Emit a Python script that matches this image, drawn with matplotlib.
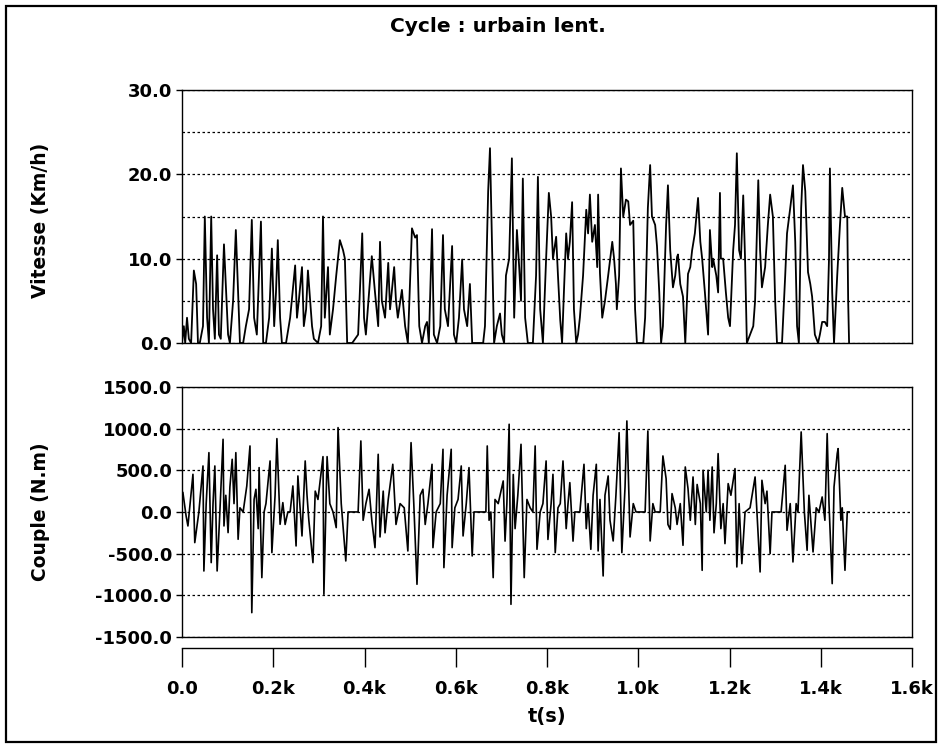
import numpy as np
import matplotlib
matplotlib.use("Agg")
import matplotlib.pyplot as plt
from matplotlib.patches import Rectangle
from matplotlib.ticker import MultipleLocator, FormatStrFormatter

plt.rcParams['font.family'] = ['DejaVu Sans']
plt.rcParams['font.weight'] = 'bold'

title = "Cycle : urbain lent."
xlabel = "t(s)"
ylabel_speed = "Vitesse (Km/h)"
ylabel_torque = "Couple (N.m)"
xtick_vals = [0, 200, 400, 600, 800, 1000, 1200, 1400, 1600]
xtick_labels = ["0.0", "0.2k", "0.4k", "0.6k", "0.8k", "1.0k", "1.2k", "1.4k", "1.6k"]

# vitesse (km/h), points
speed_t = [0, 4, 7, 11, 15, 20, 26, 31, 35, 39, 46, 50, 55, 59, 64, 68, 72, 77, 81, 85,
           92, 96, 101, 105, 112, 118, 123, 127, 134, 140, 147, 153, 158, 164, 173, 178,
           184, 191, 197, 202, 206, 210, 215, 219, 228, 237, 248, 252, 256, 263, 267, 272,
           276, 281, 285, 289, 298, 305, 309, 313, 320, 324, 331, 338, 346, 353, 357, 362,
           373, 386, 395, 399, 403, 410, 416, 423, 430, 434, 438, 445, 452, 456, 465, 469,
           473, 482, 489, 495, 504, 511, 515, 520, 526, 533, 537, 541, 548, 552, 559, 566,
           572, 576, 583, 592, 596, 601, 607, 614, 618, 625, 631, 636, 660, 664, 671, 675,
           680, 684, 690, 697, 701, 706, 710, 717, 723, 728, 734, 739, 743, 747, 752, 758,
           769, 776, 780, 785, 791, 798, 804, 809, 813, 820, 824, 829, 833, 837, 842, 846,
           850, 855, 859, 864, 868, 872, 879, 886, 890, 894, 899, 905, 910, 912, 916, 921,
           927, 934, 943, 947, 951, 953, 958, 962, 967, 973, 978, 982, 989, 993, 997, 1004,
           1011, 1015, 1021, 1026, 1030, 1037, 1041, 1046, 1050, 1054, 1061, 1065, 1070,
           1076, 1081, 1085, 1087, 1092, 1098, 1103, 1109, 1114, 1118, 1124, 1131, 1136,
           1140, 1146, 1153, 1157, 1162, 1164, 1171, 1175, 1179, 1181, 1186, 1192, 1197,
           1201, 1208, 1212, 1216, 1221, 1225, 1230, 1234, 1238, 1245, 1252, 1256, 1263,
           1267, 1271, 1278, 1284, 1289, 1295, 1300, 1304, 1315, 1322, 1326, 1333, 1339,
           1344, 1348, 1352, 1357, 1361, 1366, 1372, 1377, 1381, 1387, 1394, 1398, 1403,
           1409, 1414, 1418, 1420, 1425, 1429, 1436, 1442, 1447, 1453, 1458, 1460, 1462]
speed_v = [0, 2, 0, 3, 0.5, 0, 8.6, 7, 0, 0, 2, 15, 3, 0, 15, 4, 0.5, 10.4, 1, 0.5,
           11.7, 7, 1, 0, 5, 13.4, 6, 0, 0, 2, 4, 14.6, 3, 1, 14.4, 0,
           0, 3, 11.2, 2, 6, 12.2, 3, 0, 0, 3, 9.2, 3, 5, 9, 2, 4,
           8.6, 5, 2, 0.5, 0, 2, 15, 3, 9, 1, 4, 8, 12.2, 11, 10, 0,
           0, 1, 13, 3, 1, 6, 10.3, 6, 2, 12, 5, 3, 9.5, 4, 9, 5,
           3, 6.3, 2, 0, 13.6, 12.5, 12.8, 2, 0, 2, 2.5, 0, 13.5, 1, 0, 2,
           12.8, 4, 2, 11.5, 1, 0, 3, 9.9, 4, 2, 7, 0, 0, 2, 18, 23.1,
           10, 0, 2, 3.5, 1, 0, 8, 10, 21.9, 3, 13.4, 9, 5, 19.5, 3, 0,
           0, 8, 19.7, 4, 0, 10, 17.8, 15, 10, 12.6, 8, 2.7, 0, 6, 13, 10,
           12, 16.7, 4, 0, 1, 3, 8, 15.8, 13, 17.6, 12, 14, 9, 17.6, 8.3, 3,
           5, 8, 12, 10, 7, 4, 8, 20.7, 15, 17, 16.8, 14, 14.5, 4, 0, 0,
           0, 3, 16, 21.1, 15, 14, 11.5, 6, 0, 2, 14, 18.7, 11,
           6.6, 8, 10.2, 10.5, 7, 5.5, 0, 8.2, 9, 11, 13, 17.2, 12,
           10, 6, 1, 13.4, 9, 10, 8, 6, 17.8, 10, 10, 6, 3,
           2, 11, 14, 22.5, 11, 10, 17.5, 10, 0, 1, 2, 5, 19.3,
           11, 6.6, 9, 14, 17.6, 15, 5, 0, 0, 8, 13, 16, 18.7,
           12, 2, 0, 16, 21.1, 18, 8.4, 7, 5.5, 1, 0, 1, 2.5,
           2.5, 2, 10, 20.7, 6, 0, 8, 14, 18.4, 15, 15, 5, 0]

# couple (N.m), points
torque_t = [2, 9, 13, 24, 28, 37, 46, 48, 53, 59, 64, 68, 72, 77, 83, 90, 92, 96, 101, 105,
            110, 114, 118, 123, 127, 134, 142, 149, 153, 158, 162, 167, 169, 175, 180, 184,
            193, 197, 204, 208, 215, 221, 226, 232, 237, 243, 250, 254, 263, 270, 274, 278,
            287, 292, 298, 309, 311, 318, 324, 331, 338, 342, 349, 359, 364, 373, 386, 392,
            397, 403, 410, 416, 423, 430, 434, 441, 445, 452, 462, 469, 478, 487, 495, 502,
            508, 515, 522, 528, 533, 539, 548, 550, 557, 566, 572, 574, 581, 590, 592, 598,
            605, 612, 616, 623, 629, 636, 640, 666, 669, 673, 677, 682, 686, 693, 704, 708,
            712, 717, 721, 726, 730, 736, 743, 750, 756, 763, 769, 774, 778, 785, 791, 798,
            802, 809, 813, 818, 824, 829, 835, 842, 846, 850, 857, 861, 872, 881, 886, 890,
            896, 901, 908, 912, 916, 923, 927, 934, 938, 945, 951, 958, 964, 971, 975, 982,
            989, 995, 1015, 1021, 1026, 1032, 1037, 1048, 1054, 1061, 1065, 1070, 1074, 1081,
            1085, 1092, 1098, 1103, 1109, 1114, 1120, 1125, 1129, 1136, 1140, 1142, 1149,
            1153, 1157, 1162, 1166, 1171, 1175, 1181, 1186, 1190, 1197, 1203, 1212, 1216,
            1221, 1227, 1234, 1245, 1256, 1260, 1267, 1271, 1278, 1282, 1289, 1293, 1300,
            1313, 1322, 1326, 1333, 1339, 1346, 1350, 1357, 1364, 1370, 1374, 1383, 1390,
            1396, 1403, 1409, 1414, 1418, 1425, 1429, 1436, 1438, 1444, 1447, 1453, 1458, 1462]
torque_nm = [232, -48, -168, 452, -368, 0, 552, -708, 100, 712, -608, 100, 552, -708, 0, 872, -168, 200, -248, 300,
             632, 100, 712, -328, 50, 0, 312, 792, -1208, 150, 272, -200, 532, -788, 0, 100,
             612, -488, 200, 880, -148, 112, -150, 0, 0, 312, -408, 432, -288, 612, 200, -100,
             -608, 250, 150, 664, -988, 664, 100, 0, -188, 1012, 100, -588, 0, 0, 0, 852,
             -100, 100, 272, -100, -428, 692, -300, 250, -250, 150, 572, -150, 100, 50, -468, 832,
             100, -868, 200, 272, -150, 100, 572, -428, 0, 100, 752, -668, 200, 752, -428, 50,
             150, 552, -288, 100, 532, -528, 0, 0, 792, -100, 0, -788, 150, 100, 372, -350,
             100, 1052, -1108, 450, -200, 200, 812, -788, 150, 50, 0, 792, -448, 0, 100, 612,
             -330, 100, 452, -488, 50, 100, 612, -200, 100, 352, -350, 0, 0, 572, -200, 100,
             -448, 200, 572, -468, 150, -768, 200, 432, -100, -348, 200, 952, -488, 300, 1092, -300,
             100, 0, 0, 972, -348, 100, 0, 0, 672, 400, -150, -208, 220, 50,
             -150, 100, -400, 540, 280, -100, 420, -150, 330, 100, -700, 500, 0,
             500, -100, 540, -250, 100, 700, -200, 100, -380, 340, 200, 520, -660,
             100, -620, 0, 50, 420, 0, -720, 380, 100, 250, -500, 0, 0,
             0, 560, -220, 100, -600, 100, 0, 960, 0, -460, 200, -480, 50,
             0, 180, -100, 940, 100, -860, 300, 700, 760, -100, 50, -700, 0, 0]

fig = plt.figure(figsize=(9.42, 7.47), dpi=100)
fig.patches.append(Rectangle((0.006, 0.007), 0.988, 0.985, transform=fig.transFigure,
                             fill=False, edgecolor='black', linewidth=1.6))

ax1 = fig.add_axes([0.1932, 0.5408, 0.775, 0.3387])
ax2 = fig.add_axes([0.1932, 0.1473, 0.775, 0.3347])
axx = fig.add_axes([0.1932, 0.1325, 0.775, 0.0001])

ax1.plot(speed_t, speed_v, color='black', linewidth=1.3)
ax1.set_xlim(0, 1600)
ax1.set_ylim(0, 30)
ax1.yaxis.set_major_locator(MultipleLocator(10))
ax1.yaxis.set_minor_locator(MultipleLocator(5))
ax1.yaxis.set_major_formatter(FormatStrFormatter('%.1f'))
ax1.grid(True, which='both', axis='y', color='black', linestyle=(0, (2, 2)), linewidth=0.9)

ax2.plot(torque_t, torque_nm, color='black', linewidth=1.2)
ax2.set_xlim(0, 1600)
ax2.set_ylim(-1500, 1500)
ax2.yaxis.set_major_locator(MultipleLocator(500))
ax2.yaxis.set_major_formatter(FormatStrFormatter('%.1f'))
ax2.grid(True, axis='y', color='black', linestyle=(0, (2, 2)), linewidth=0.9)

for ax in (ax1, ax2):
    ax.set_xticks([])
    ax.tick_params(axis='y', which='both', direction='out', length=4, width=1,
                   labelsize=13, pad=3)
    ax.tick_params(axis='y', which='minor', length=0)
    for s in ax.spines.values():
        s.set_linewidth(1.0)
    ax.set_axisbelow(True)

axx.set_xlim(0, 1600)
axx.set_yticks([])
for side in ('top', 'left', 'right'):
    axx.spines[side].set_visible(False)
axx.spines['bottom'].set_linewidth(1.0)
axx.set_xticks(xtick_vals)
axx.set_xticklabels(xtick_labels)
axx.tick_params(axis='x', direction='out', length=14, width=1, labelsize=13, pad=9)
axx.patch.set_visible(False)

fig.text(0.5287, 0.964, title, ha='center', va='center', fontsize=14.5, fontweight='bold')
fig.text(0.581, 0.041, xlabel, ha='center', va='center', fontsize=14, fontweight='bold')
fig.text(0.043, 0.705, ylabel_speed, ha='center', va='center', rotation=90,
         fontsize=13.5, fontweight='bold')
fig.text(0.043, 0.315, ylabel_torque, ha='center', va='center', rotation=90,
         fontsize=13.5, fontweight='bold')

fig.savefig("out.png", dpi=100)
